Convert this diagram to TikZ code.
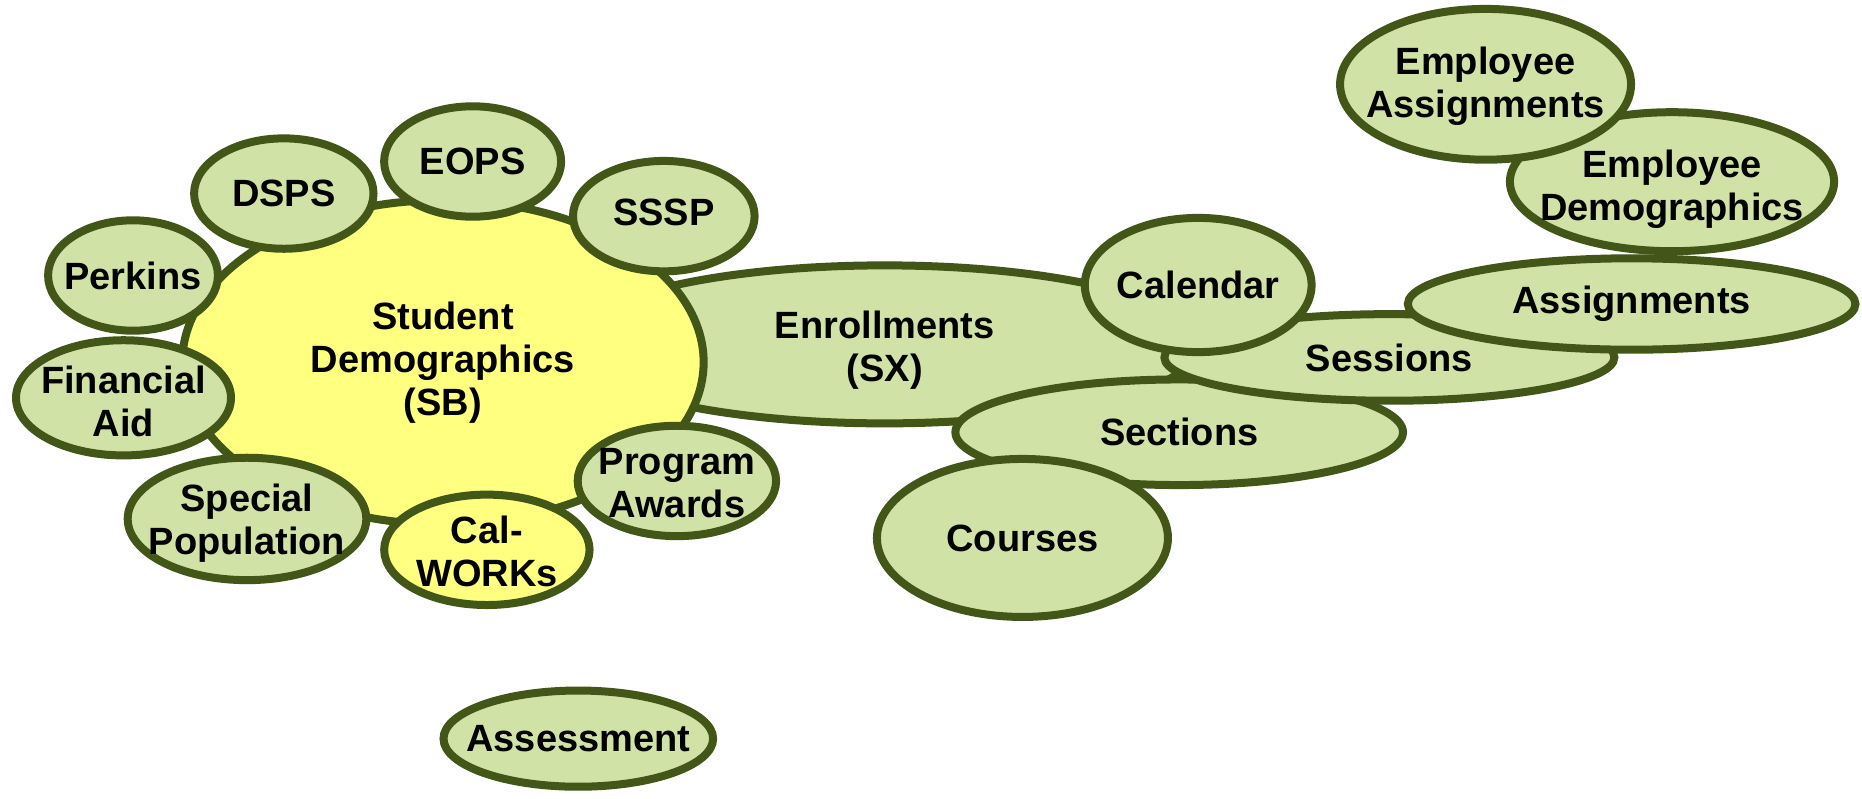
\documentclass[tikz,border=0pt]{standalone}
\usepackage{fontspec}
\setmainfont{Liberation Sans}
\usepackage{xcolor}
\usetikzlibrary{shapes.geometric}

\definecolor{leaf}{RGB}{209,226,166}
\definecolor{rim}{RGB}{66,86,24}
\definecolor{sun}{RGB}{255,255,128}

\tikzset{
  bubble/.style={ellipse, draw=rim, line width=4pt, fill=leaf, inner sep=0pt},
  hub/.style={bubble, fill=sun},
  tag/.style={align=center, inner sep=0pt, font=\fontsize{19}{21.5}\selectfont\bfseries}
}

\begin{document}
\begin{tikzpicture}[x=0.59375pt,y=-0.59375pt]
                \useasboundingbox (0,0) rectangle (1568,672);
                % enrollment side, under the hub
                \node[bubble, minimum width=316.5pt, minimum height=79pt] (enroll) at (745,290) {};
                % student hub and its satellites
                \node[hub, minimum width=260.7pt, minimum height=162.1pt] (student) at (373,305) {};
                \node[bubble, minimum width=84.9pt, minimum height=55.2pt] (perkins) at (112,232) {};
                \node[bubble, minimum width=89.7pt, minimum height=55.2pt] (dsps) at (239,163) {};
                \node[bubble, minimum width=88.5pt, minimum height=55.2pt] (eops) at (398,136) {};
                \node[bubble, minimum width=90.8pt, minimum height=55.2pt] (sssp) at (559,182) {};
                \node[bubble, minimum width=107.5pt, minimum height=57.6pt] (finaid) at (104,335) {};
                \node[bubble, minimum width=119.3pt, minimum height=61.2pt] (special) at (208,437) {};
                \node[hub, minimum width=102.7pt, minimum height=55.2pt] (calworks) at (410,463) {};
                \node[bubble, minimum width=99.2pt, minimum height=55.2pt] (awards) at (570,405) {};
                % schedule chain
                \node[bubble, minimum width=223.8pt, minimum height=52.8pt] (sections) at (993,364) {};
                \node[bubble, minimum width=225pt, minimum height=43.3pt] (sessions) at (1170,301) {};
                \node[bubble, minimum width=113.4pt, minimum height=67.1pt] (calendar) at (1009,240) {};
                \node[bubble, minimum width=145.5pt, minimum height=79pt] (courses) at (861,453) {};
                % employee side
                \node[bubble, minimum width=162.1pt, minimum height=69.5pt] (empdemo) at (1408,153) {};
                \node[bubble, minimum width=223.8pt, minimum height=45.7pt] (assign) at (1374,256) {};
                \node[bubble, minimum width=145.5pt, minimum height=75.4pt] (empassign) at (1251,71) {};
                % on its own
                \node[bubble, minimum width=134.8pt, minimum height=48.1pt] (assess) at (487,622) {};
                % texts on top
                \node[tag] (enroll-t) at ([yshift=-3pt]enroll) {Enrollments\\(SX)};
                \node[tag] (student-t) at (student) {Student\\Demographics\\(SB)};
                \node[tag] (perkins-t) at (perkins) {Perkins};
                \node[tag] (dsps-t) at (dsps) {DSPS};
                \node[tag] (eops-t) at (eops) {EOPS};
                \node[tag] (sssp-t) at ([yshift=2pt]sssp) {SSSP};
                \node[tag] (finaid-t) at ([yshift=-2pt]finaid) {Financial\\Aid};
                \node[tag] (special-t) at ([yshift=-2pt]special) {Special\\Population};
                \node[tag] (calworks-t) at ([yshift=-1pt]calworks) {Cal-\\WORKs};
                \node[tag] (awards-t) at ([yshift=-1pt]awards) {Program\\Awards};
                \node[tag] (sections-t) at (sections) {Sections};
                \node[tag] (sessions-t) at (sessions) {Sessions};
                \node[tag] (calendar-t) at (calendar) {Calendar};
                \node[tag] (courses-t) at (courses) {Courses};
                \node[tag] (empdemo-t) at ([yshift=-4pt]empdemo) {Employee\\Demographics};
                \node[tag] (assign-t) at (assign) {Assignments};
                \node[tag] (empassign-t) at ([yshift=-1pt]empassign) {Employee\\Assignments};
                \node[tag] (assess-t) at (assess) {Assessment};
            \end{tikzpicture}
\end{document}
